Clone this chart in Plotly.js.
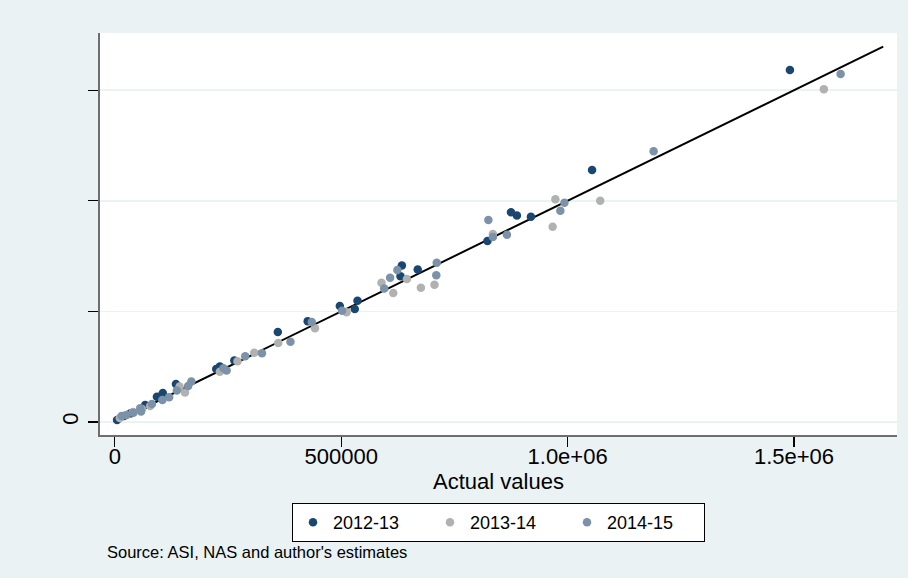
<!DOCTYPE html>
<html>
<head>
<meta charset="utf-8">
<script src="https://cdn.plot.ly/plotly-3.0.1.min.js"></script>
<style>html,body{margin:0;padding:0;background:#eaf2f3;}#chart{width:908px;height:578px;}</style>
</head>
<body>
<div id="chart"></div>
<script>
// Actual values (x) and predicted values (y) by year
const x2012 = [5000, 20000, 35000, 67000, 93000, 100000, 106000, 135000, 224000, 232000, 264000, 360000, 426000, 497000, 530000, 536000, 631000, 634000, 669000, 823000, 875000, 888000, 919000, 1054000, 1491000];
const y2012 = [9000, 27000, 39000, 77000, 114000, 114000, 131000, 172000, 240000, 251000, 278000, 407000, 456000, 524000, 511000, 548000, 659000, 708000, 689000, 818000, 948000, 934000, 928000, 1139000, 1591000];

const x2013 = [11000, 40000, 60000, 78000, 143000, 155000, 232000, 271000, 308000, 361000, 442000, 512000, 589000, 615000, 645000, 676000, 706000, 835000, 967000, 973000, 1072000, 1566000];
const y2013 = [18000, 45000, 59000, 72000, 160000, 133000, 227000, 275000, 313000, 357000, 424000, 496000, 630000, 583000, 646000, 607000, 621000, 850000, 883000, 1007000, 1000000, 1504000];

const x2014 = [15000, 26000, 41000, 56000, 58000, 82000, 105000, 120000, 137000, 162000, 169000, 240000, 247000, 288000, 325000, 388000, 435000, 502000, 595000, 608000, 624000, 710000, 711000, 825000, 835000, 866000, 984000, 993000, 1190000, 1603000];
const y2014 = [27000, 32000, 42000, 62000, 47000, 81000, 99000, 112000, 142000, 163000, 183000, 243000, 233000, 297000, 311000, 363000, 452000, 503000, 604000, 652000, 687000, 663000, 720000, 913000, 836000, 847000, 955000, 991000, 1224000, 1573000];

const lineX = [0, 1697000];
const lineY = [0, 1697000];

const seriesNames = ['2012-13', '2013-14', '2014-15'];
const xTickVals = [0, 500000, 1000000, 1500000];
const xTickText = ['0', '500000', '1.0e+06', '1.5e+06'];
const yTickVals = [0, 500000, 1000000, 1500000];
const yTickText = ['0', '', '', ''];

const FONT = '"Liberation Sans", Arial, Helvetica, sans-serif';

const traces = [
  {x: lineX, y: lineY, mode: 'lines', type: 'scatter', line: {color: '#000000', width: 2}, showlegend: false, hoverinfo: 'skip'},
  {x: x2012, y: y2012, mode: 'markers', type: 'scatter', name: seriesNames[0], marker: {color: '#1a476f', size: 8.5}},
  {x: x2013, y: y2013, mode: 'markers', type: 'scatter', name: seriesNames[1], marker: {color: '#b1b1b1', size: 8.5}},
  {x: x2014, y: y2014, mode: 'markers', type: 'scatter', name: seriesNames[2], marker: {color: '#7b92a8', size: 8.5}}
];

const layout = {
  width: 908, height: 578,
  margin: {l: 100, r: 11, t: 33, b: 143},
  paper_bgcolor: '#eaf2f3',
  plot_bgcolor: '#ffffff',
  font: {family: FONT, color: '#000000', size: 22},
  xaxis: {
    range: [-32700, 1727500],
    tickvals: xTickVals, ticktext: xTickText,
    showgrid: false, zeroline: false,
    showline: true, linecolor: '#6e6e6e', linewidth: 2,
    ticks: 'outside', ticklen: 10, tickwidth: 1.3, tickcolor: '#000000',
    tickfont: {size: 22, family: FONT},
    ticklabelstandoff: -9,
    title: {text: 'Actual values', font: {size: 22, family: FONT}, standoff: 0},
    automargin: false
  },
  yaxis: {
    range: [-58770, 1758600],
    tickvals: yTickVals, ticktext: yTickText,
    showgrid: true, gridcolor: '#eaf2f3', gridwidth: 1.5,
    zeroline: false,
    showline: true, linecolor: '#6e6e6e', linewidth: 2,
    ticks: 'outside', ticklen: 10, tickwidth: 1.3, tickcolor: '#000000',
    tickangle: -90,
    tickfont: {size: 22, family: FONT},
    ticklabelstandoff: 1,
    automargin: false
  },
  legend: {
    orientation: 'h',
    x: 0.5, xanchor: 'center',
    y: -0.169, yanchor: 'top',
    bgcolor: '#ffffff', bordercolor: '#000000', borderwidth: 1,
    entrywidth: 92, entrywidthmode: 'pixels',
    font: {size: 18, family: FONT, color: '#000000'}
  },
  showlegend: true,
  annotations: [{
    text: "Source: ASI, NAS and author's estimates",
    xref: 'paper', yref: 'paper',
    x: 0.006, y: -0.291, xanchor: 'left', yanchor: 'middle',
    showarrow: false,
    font: {size: 16.5, family: FONT, color: '#000000'}
  }]
};

Plotly.newPlot('chart', traces, layout, {displayModeBar: false, staticPlot: true});
</script>
</body>
</html>
